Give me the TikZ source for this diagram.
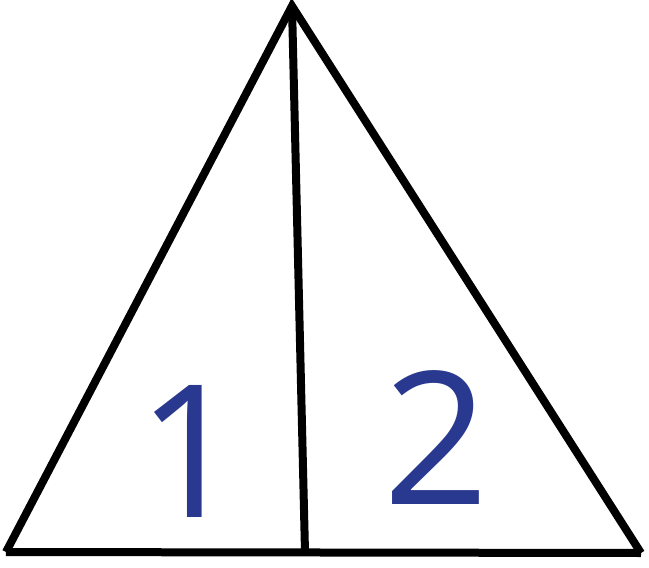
\documentclass[tikz,border=0pt]{standalone}
\usepackage{fontspec}
\setmainfont{Open Sans}
\usepackage{xcolor}
\usepackage{tikz}
\definecolor{digitblue}{RGB}{42,57,144}

\begin{document}
\begin{tikzpicture}[x=1pt, y=-1pt, every node/.style={font=\fontsize{185}{185}\selectfont, text=digitblue, inner sep=0pt}]
   % Frame for the page size
   \useasboundingbox (0,0) rectangle (649,568);
    % Corners of the triangle
    \coordinate (apex) at (292,6);
    \coordinate (left) at (6,552);
    \coordinate (right) at (641,553);
    \coordinate (foot) at (305,552);

    % Sides and the dividing line
    \draw[line width=8pt] (left) -- (apex) -- (right);
    \draw[line width=8pt] (left) -- (right);
    \draw[line width=8pt] (apex) -- (foot);

    % Numbers of the two parts
    \node[anchor=base] (one) at (190,517) {1};
    \node[anchor=base] (two) at (436,504) {2};
\end{tikzpicture}
\end{document}
